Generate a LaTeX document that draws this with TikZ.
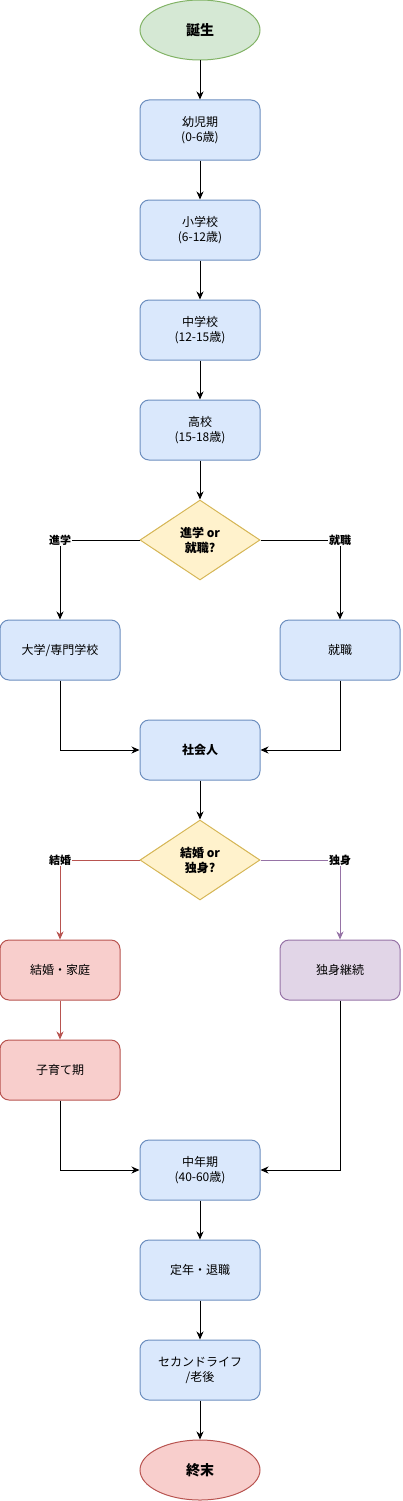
\documentclass[tikz,border=0pt]{standalone}
\usepackage{fontspec}
\setmainfont{Noto Sans CJK JP}
\usepackage{tikz}
\usetikzlibrary{shapes.geometric, arrows.meta, positioning}
\usepackage{xcolor}
\definecolor{StageBlue}{HTML}{DAE8FC}
\definecolor{StageBlueLine}{HTML}{6C8EBF}
\definecolor{BirthGreen}{HTML}{D5E8D4}
\definecolor{BirthGreenLine}{HTML}{82B366}
\definecolor{ChoiceYellow}{HTML}{FFF2CC}
\definecolor{ChoiceYellowLine}{HTML}{D6B656}
\definecolor{FamilyRed}{HTML}{F8CECC}
\definecolor{FamilyRedLine}{HTML}{B85450}
\definecolor{SingleViolet}{HTML}{E1D5E7}
\definecolor{SingleVioletLine}{HTML}{9673A6}

\tikzset{
  stage/.style={rectangle, rounded corners=9pt, draw=StageBlueLine, fill=StageBlue, line width=1pt,
    minimum width=120pt, minimum height=60pt, inner sep=0pt, align=center,
    font=\fontsize{12}{15}\selectfont},
  ends/.style={ellipse, line width=1pt, minimum width=120pt, minimum height=60pt, inner sep=0pt,
    font=\fontsize{14}{17}\selectfont\bfseries},
  choice/.style={diamond, shape aspect=1.5, draw=ChoiceYellowLine, fill=ChoiceYellow, line width=1pt,
    minimum width=120pt, minimum height=80pt, inner sep=0pt, align=center,
    font=\fontsize{12}{15}\selectfont\bfseries},
  flow/.style={-{Stealth[length=8pt,width=7pt,inset=2.5pt]}, line width=1pt},
  tag/.style={fill=white, inner sep=1pt, font=\fontsize{11}{13}\selectfont\bfseries}
}

\begin{document}
\begin{tikzpicture}[x=1pt, y=-1pt]
\useasboundingbox (0, 0) rectangle (402, 1501);
% main line
\node[ends, draw=BirthGreenLine, fill=BirthGreen] (birth) at (200, 30) {誕生};
\node[stage] (infant) at (200, 130) {幼児期\\(0-6歳)};
\node[stage] (elem) at (200, 230) {小学校\\(6-12歳)};
\node[stage] (junior) at (200, 330) {中学校\\(12-15歳)};
\node[stage] (high) at (200, 430) {高校\\(15-18歳)};
\node[choice] (career) at (200, 540) {進学 or\\就職?};
\node[stage] (univ) at (60, 650) {大学/専門学校};
\node[stage] (job) at (340, 650) {就職};
\node[stage, font=\fontsize{12}{15}\selectfont\bfseries] (adult) at (200, 750) {社会人};
\node[choice] (marry) at (200, 860) {結婚 or\\独身?};
\node[stage, draw=FamilyRedLine, fill=FamilyRed] (family) at (60, 970) {結婚・家庭};
\node[stage, draw=SingleVioletLine, fill=SingleViolet] (single) at (340, 970) {独身継続};
\node[stage, draw=FamilyRedLine, fill=FamilyRed] (kids) at (60, 1070) {子育て期};
\node[stage] (middle) at (200, 1170) {中年期\\(40-60歳)};
\node[stage] (retire) at (200, 1270) {定年・退職};
\node[stage] (second) at (200, 1370) {セカンドライフ\\/老後};
\node[ends, draw=FamilyRedLine, fill=FamilyRed] (death) at (200, 1470) {終末};

\draw[flow] (birth) -- (infant);
\draw[flow] (infant) -- (elem);
\draw[flow] (elem) -- (junior);
\draw[flow] (junior) -- (high);
\draw[flow] (high) -- (career);
\draw[flow] (career.west) -| (univ.north) node[pos=0.5, tag] {進学};
\draw[flow] (career.east) -| (job.north) node[pos=0.5, tag] {就職};
\draw[flow] (univ.south) |- (adult.west);
\draw[flow] (job.south) |- (adult.east);
\draw[flow] (adult) -- (marry);
\draw[flow, FamilyRedLine] (marry.west) -| (family.north) node[pos=0.5, tag, text=black] {結婚};
\draw[flow, SingleVioletLine] (marry.east) -| (single.north) node[pos=0.5, tag, text=black] {独身};
\draw[flow, FamilyRedLine] (family) -- (kids);
\draw[flow] (kids.south) |- (middle.west);
\draw[flow] (single.south) |- (middle.east);
\draw[flow] (middle) -- (retire);
\draw[flow] (retire) -- (second);
\draw[flow] (second) -- (death);
\end{tikzpicture}
\end{document}
